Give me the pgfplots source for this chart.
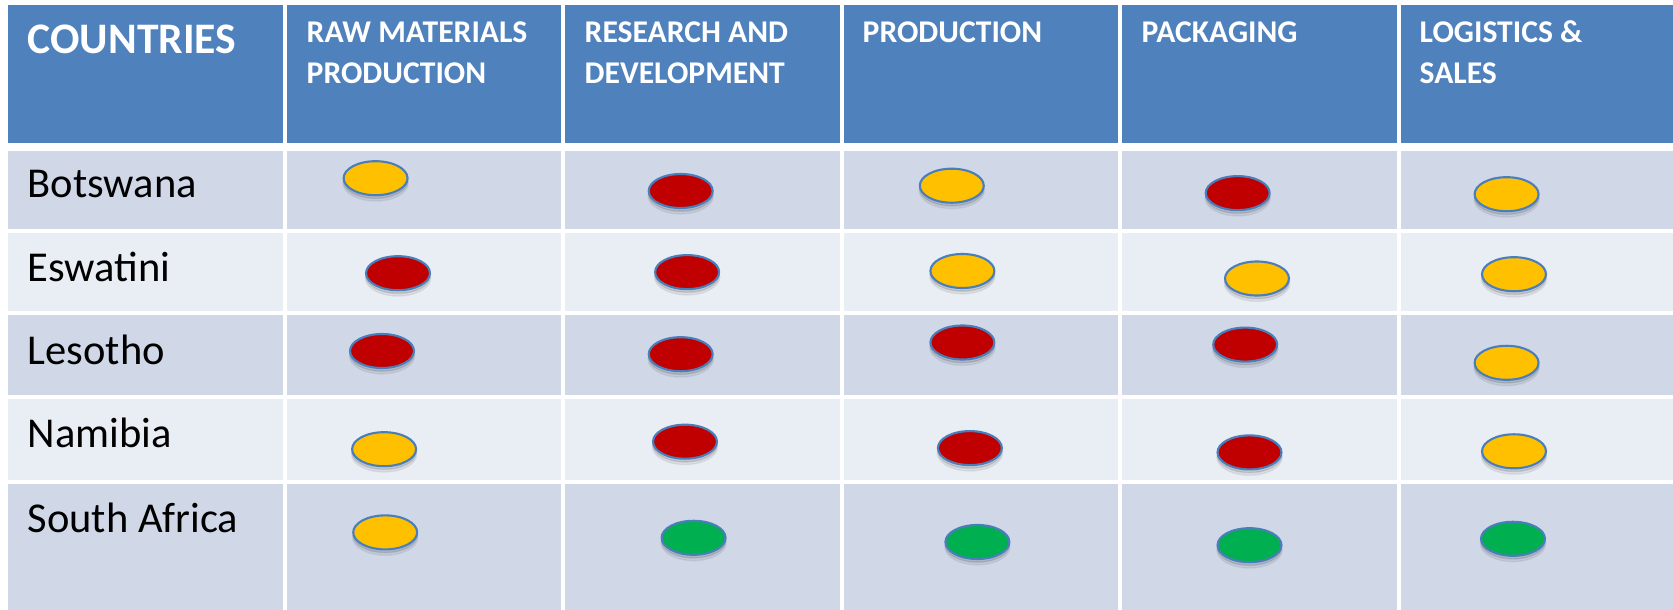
\documentclass[border=0pt]{standalone}
\usepackage{fontspec}
\setmainfont{Carlito}
\usepackage{pgfplots}
\pgfplotsset{compat=1.18}
\definecolor{hdr}{HTML}{4F81BD}
\definecolor{rowA}{HTML}{D0D8E8}
\definecolor{rowB}{HTML}{E9EDF4}
\definecolor{yel}{HTML}{FFC000}
\definecolor{rd}{HTML}{C00000}
\definecolor{grn}{HTML}{00B050}
\definecolor{edge}{HTML}{4A7EBB}
\pgfplotstableread{
x y
375.6 178.2
680.7 191.0
951.8 185.7
1237.7 193.1
1506.6 194.2
398.0 273.2
687.1 272.1
962.4 271.0
1257.0 278.5
1514.0 274.2
382.0 351.0
680.7 354.2
962.4 342.5
1245.2 344.6
1506.6 362.8
384.1 449.2
685.0 441.7
969.9 448.1
1249.5 452.4
1514.0 451.3
385.2 532.4
693.6 537.8
977.4 542.0
1249.5 545.2
1513.0 538.8
}\alldots
\usepackage{pgfplotstable}
\begin{document}
\begin{tikzpicture}
\begin{axis}[scale only axis, width=16.73cm, height=6.10cm,
  xmin=0, xmax=1673, ymin=0, ymax=610, y dir=reverse, hide axis, clip=true]
\fill[white] (axis cs:0,0) rectangle (axis cs:1673,610);
\fill[hdr] (axis cs:8,5) rectangle (axis cs:1673,143);
\fill[rowA] (axis cs:8,151) rectangle (axis cs:1673,229);
\fill[rowB] (axis cs:8,233) rectangle (axis cs:1673,311);
\fill[rowA] (axis cs:8,315) rectangle (axis cs:1673,395);
\fill[rowB] (axis cs:8,399) rectangle (axis cs:1673,480);
\fill[rowA] (axis cs:8,484) rectangle (axis cs:1673,610);
\fill[white] (axis cs:283,0) rectangle (axis cs:287,610);
\fill[white] (axis cs:561,0) rectangle (axis cs:565,610);
\fill[white] (axis cs:840,0) rectangle (axis cs:844,610);
\fill[white] (axis cs:1118,0) rectangle (axis cs:1122,610);
\fill[white] (axis cs:1397,0) rectangle (axis cs:1401,610);
% header text
\node[anchor=base west, text=white, font=\fontsize{12.4}{14}\selectfont\bfseries, inner sep=0pt] at (axis cs:27,53) {COUNTRIES};
\begin{scope}[every node/.style={anchor=base west, text=white, font=\fontsize{9}{11}\selectfont\bfseries, inner sep=0pt}]
\node at (axis cs:306,42.5) {RAW MATERIALS};
\node at (axis cs:306,83) {PRODUCTION};
\node at (axis cs:584,42.5) {RESEARCH AND};
\node at (axis cs:584,83) {DEVELOPMENT};
\node at (axis cs:862,42.5) {PRODUCTION};
\node at (axis cs:1141,42.5) {PACKAGING};
\node at (axis cs:1419,42.5) {LOGISTICS \&};
\node at (axis cs:1419,83) {SALES};
\end{scope}
\begin{scope}[every node/.style={anchor=base west, text=black, font=\fontsize{12.1}{14}\selectfont, inner sep=0pt}]
\node at (axis cs:27,197.5) {Botswana};
\node at (axis cs:27,281.5) {Eswatini};
\node at (axis cs:27,365) {Lesotho};
\node at (axis cs:27,448) {Namibia};
\node at (axis cs:27,532.5) {South Africa};
\end{scope}
% soft shadows
\addplot[only marks, mark=*, mark size=5.1pt,
  mark options={xscale=1.82, fill=black, draw=none, opacity=0.06, yshift=-1.4pt}] table {\alldots};
\addplot[only marks, mark=*, mark size=4.84pt,
  mark options={xscale=1.88, fill=black, draw=none, opacity=0.10, yshift=-0.9pt}] table {\alldots};
% yellow
\addplot[only marks, mark=*, mark size=4.84pt,
  mark options={xscale=1.88, fill=yel, draw=edge, line width=0.6pt}] table {
x y
375.6 178.2
951.8 185.7
1506.6 194.2
962.4 271.0
1257.0 278.5
1514.0 274.2
1506.6 362.8
384.1 449.2
1514.0 451.3
385.2 532.4
};
% red
\addplot[only marks, mark=*, mark size=4.84pt,
  mark options={xscale=1.88, fill=rd, draw=edge, line width=0.6pt}] table {
x y
680.7 191.0
1237.7 193.1
398.0 273.2
687.1 272.1
382.0 351.0
680.7 354.2
962.4 342.5
1245.2 344.6
685.0 441.7
969.9 448.1
1249.5 452.4
};
% green
\addplot[only marks, mark=*, mark size=4.84pt,
  mark options={xscale=1.88, fill=grn, draw=edge, line width=0.6pt}] table {
x y
693.6 537.8
977.4 542.0
1249.5 545.2
1513.0 538.8
};
\end{axis}
\end{tikzpicture}
\end{document}
